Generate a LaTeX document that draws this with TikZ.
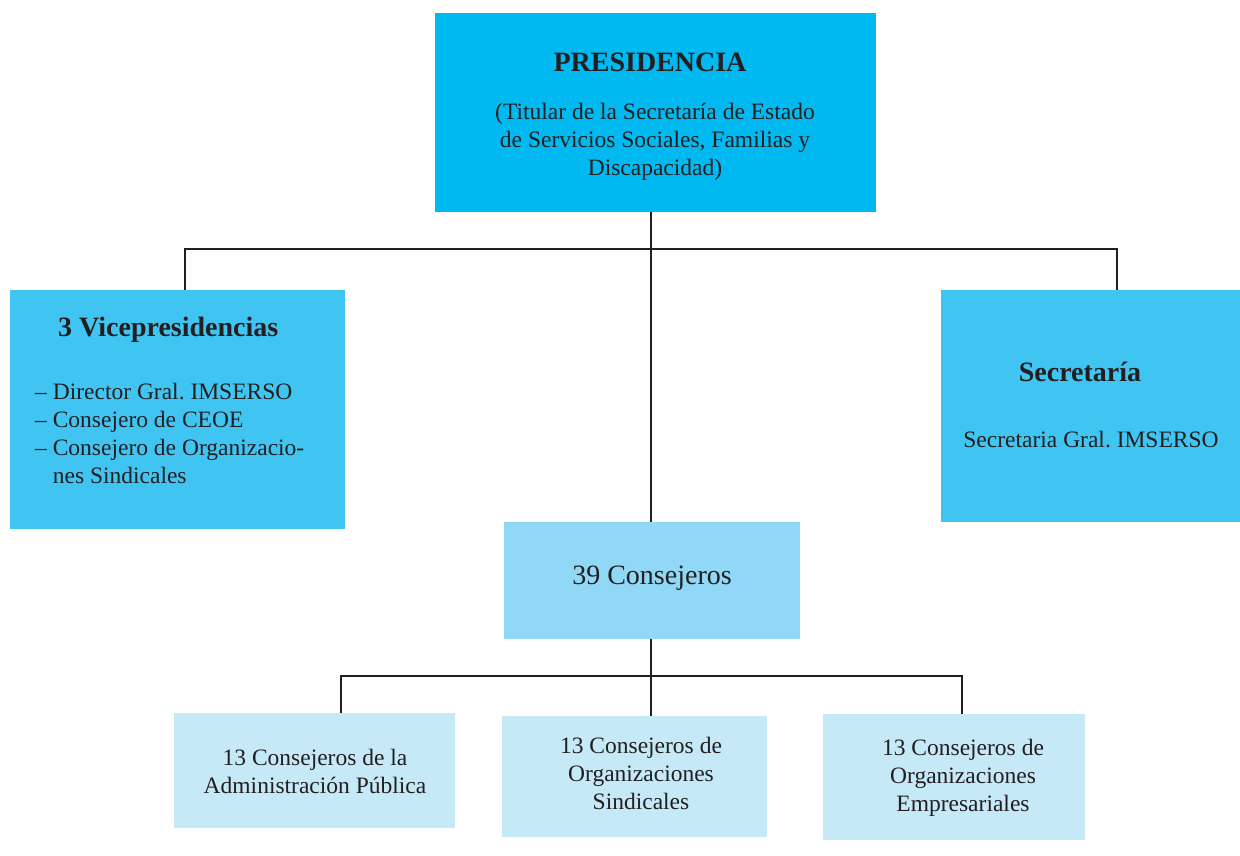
\documentclass[tikz,border=0pt]{standalone}
\usepackage{fontspec}
\setmainfont{Liberation Serif}
\frenchspacing
\definecolor{presC}{RGB}{0,185,240}
\definecolor{viceC}{RGB}{64,197,242}
\definecolor{consC}{RGB}{144,216,245}
\definecolor{lowC}{RGB}{198,233,248}
\definecolor{lineC}{RGB}{35,31,32}
\definecolor{txtC}{RGB}{35,31,32}
\begin{document}
\begin{tikzpicture}[x=1pt,y=-1pt,
  box/.style={draw=none,inner sep=0pt,outer sep=0pt,anchor=north west},
  conn/.style={line width=2pt,draw=lineC},
  txt/.style={inner sep=0pt,text=txtC,font=\fontsize{23.5}{28}\selectfont},
  ttl/.style={inner sep=0pt,text=txtC,font=\fontsize{28}{32}\selectfont\bfseries}]
\useasboundingbox (0,0) rectangle (1240,855);
% boxes
\node[box,fill=presC,minimum width=441pt,minimum height=199pt] (pres) at (435,13) {};
\node[box,fill=viceC,minimum width=335pt,minimum height=239pt] (vice) at (10,290) {};
\node[box,fill=viceC,minimum width=299pt,minimum height=232pt] (sec) at (941,290) {};
\node[box,fill=consC,minimum width=296pt,minimum height=117pt] (cons) at (504,522) {};
\node[box,fill=lowC,minimum width=281pt,minimum height=115pt] (b1) at (174,713) {};
\node[box,fill=lowC,minimum width=265pt,minimum height=121pt] (b2) at (502,716) {};
\node[box,fill=lowC,minimum width=262pt,minimum height=126pt] (b3) at (823,714) {};
% connectors
\coordinate (cx) at (651,0);
\coordinate (jL) at (185,249);
\coordinate (jR) at (1117,249);
\draw[conn] (cx |- pres.south) -- (cx |- cons.north);
\draw[conn] (jL |- vice.north) -- (jL) -- (jR) -- (jR |- sec.north);
\coordinate (kL) at (341,676);
\coordinate (kR) at (962,676);
\draw[conn] (cx |- cons.south) -- (cx |- b2.north);
\draw[conn] (kL |- b1.north) -- (kL) -- (kR) -- (kR |- b3.north);
% texts
\node[ttl] (tpres) at (650,62) {PRESIDENCIA};
\node[txt,align=center] (tpres2) at (655,142) {(Titular de la Secretaría de Estado\\de Servicios Sociales, Familias y\\Discapacidad)};
\node[ttl,anchor=west] (tvice) at (58,330) {3 Vicepresidencias};
\node[txt,align=left,anchor=north west] (tvice2) at (35,383) {– Director Gral. IMSERSO\\– Consejero de CEOE\\– Consejero de Organizacio-\\\phantom{– }nes Sindicales};
\node[ttl] (tsec) at (1080,372) {Secretaría};
\node[txt] (tsec2) at (1091,440) {Secretaria Gral. IMSERSO};
\node[txt,font=\fontsize{28}{32}\selectfont] (tcons) at (652,578) {39 Consejeros};
\node[txt,align=center] (tb1) at (315,771) {13 Consejeros de la\\Administración Pública};
\node[txt,align=center] (tb2) at (641,773) {13 Consejeros de\\Organizaciones\\Sindicales};
\node[txt,align=center] (tb3) at (963,778) {13 Consejeros de\\Organizaciones\\Empresariales};
\end{tikzpicture}
\end{document}
